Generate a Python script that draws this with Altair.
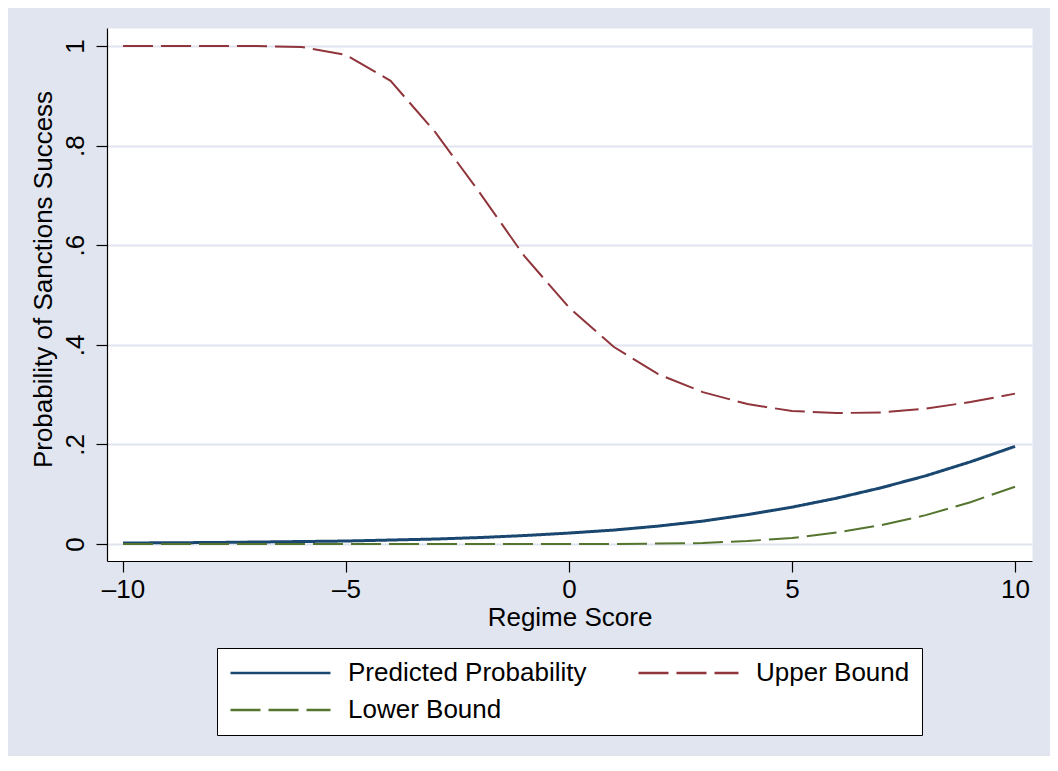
import altair as alt
import pandas as pd

# ---- data ----
regime = [-10, -9, -8, -7, -6, -5, -4, -3, -2, -1, 0, 1, 2, 3, 4, 5, 6, 7, 8, 9, 10]
predicted = [0.002, 0.0025, 0.003, 0.004, 0.005, 0.006, 0.008, 0.010, 0.013, 0.017, 0.022,
             0.028, 0.036, 0.046, 0.059, 0.074, 0.092, 0.113, 0.137, 0.165, 0.196]
upper = [1.000, 1.000, 1.000, 1.000, 0.998, 0.982, 0.930, 0.827, 0.705, 0.578, 0.475,
         0.396, 0.341, 0.305, 0.281, 0.267, 0.263, 0.264, 0.272, 0.285, 0.302]
lower = [0.000, 0.000, 0.000, 0.000, 0.000, 0.000, 0.000, 0.000, 0.000, 0.000, 0.000,
         0.000, 0.001, 0.002, 0.006, 0.012, 0.023, 0.038, 0.058, 0.084, 0.115]

series_names = ["Predicted Probability", "Upper Bound", "Lower Bound"]
series_colors = ["#1A476F", "#90353B", "#55752F"]
series_dash = [[1, 0], [30, 8], [30, 8]]

rows = []
for name, vals in zip(series_names, [predicted, upper, lower]):
    for x, v in zip(regime, vals):
        rows.append({"regime": x, "value": v, "series": name})
df = pd.DataFrame(rows)

FONT = "Liberation Sans"

base = alt.Chart(df).encode(
    x=alt.X(
        "regime:Q",
        scale=alt.Scale(domain=[-10.359, 10.381], nice=False, zero=False),
        axis=alt.Axis(
            values=[-10, -5, 0, 5, 10],
            labelExpr="datum.value < 0 ? '\u2013' + abs(datum.value) : '' + datum.value",
            tickSize=11,
            labelPadding=4,
            labelFlush=False,
            grid=False,
            title="Regime Score",
            titleY=43.5,
            titleBaseline="top",
        ),
    ),
    y=alt.Y(
        "value:Q",
        scale=alt.Scale(domain=[-0.0341, 1.0361], nice=False, zero=False),
        axis=alt.Axis(
            values=[0, 0.2, 0.4, 0.6, 0.8, 1],
            labelExpr="datum.value == 0 ? '0' : datum.value == 1 ? '1' : replace(format(datum.value, '.1f'), '0.', '.')",
            labelAngle=270,
            labelAlign="center",
            labelBaseline="alphabetic",
            labelPadding=13,
            labelFlush=False,
            tickSize=11,
            grid=True,
            title="Probability of Sanctions Success",
            titleAngle=270,
            titleAlign="center",
            titleBaseline="alphabetic",
            titleX=-56,
            titleY=251,
        ),
    ),
    color=alt.Color(
        "series:N",
        scale=alt.Scale(domain=series_names, range=series_colors),
        title=None,
    ),
    strokeDash=alt.StrokeDash(
        "series:N",
        scale=alt.Scale(domain=series_names, range=series_dash),
        title=None,
    ),
)

pred_line = base.transform_filter(
    alt.datum.series == "Predicted Probability"
).mark_line(strokeWidth=3, strokeCap="butt")

bound_lines = base.transform_filter(
    alt.datum.series != "Predicted Probability"
).mark_line(strokeWidth=2, strokeCap="butt")

chart = alt.layer(pred_line, bound_lines).properties(
    width=925,
    height=533,
    autosize=alt.AutoSizeParams(type="none"),
    padding={"left": 99, "top": 20, "right": 18, "bottom": 195},
    background="#E1E5EF",
).configure_view(
    fill="white",
    stroke="transparent",
).configure_axis(
    domainColor="black",
    domainWidth=1.2,
    tickColor="black",
    tickWidth=1.2,
    gridColor="#DFE4EF",
    gridWidth=2,
    labelFont=FONT,
    labelFontSize=26,
    labelColor="black",
    titleFont=FONT,
    titleFontSize=26,
    titleFontWeight="normal",
    titleColor="black",
).configure_legend(
    orient="none",
    legendX=110,
    legendY=620,
    direction="horizontal",
    columns=2,
    clipHeight=26,
    symbolType="stroke",
    symbolSize=10000,
    symbolStrokeWidth=2.5,
    labelFont=FONT,
    labelFontSize=26,
    labelColor="black",
    labelOffset=16,
    labelLimit=0,
    columnPadding=50,
    rowPadding=11,
    padding=12,
    strokeColor="black",
    fillColor="white",
)

chart.save("out.html", embed_options={"renderer": "svg", "actions": False})
